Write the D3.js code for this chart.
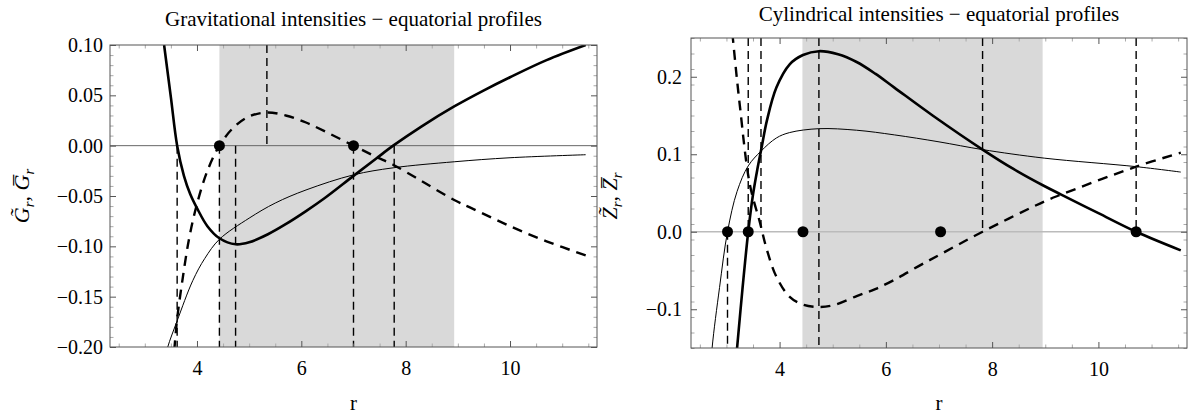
<!DOCTYPE html>
<html>
<head>
<meta charset="utf-8">
<script src="https://cdn.jsdelivr.net/npm/d3@7"></script>
<style>
  body { margin: 0; background: #fff; }
  svg { display: block; font-family: "Liberation Serif", "Times New Roman", serif; }
</style>
</head>
<body>
<svg id="chart"></svg>
<script>
const width = 1188;
const height = 414;

// ---- data (r, value) ----
// left panel: gravitational intensities
const gravR_thick = [3.37, 3.50, 3.62, 3.75, 3.87, 4.00, 4.20, 4.43, 4.74, 5.00, 5.36, 5.70, 6.09, 6.45, 7.00, 7.43, 7.76, 8.30, 8.93, 9.50, 10.00, 10.70, 11.45];
const gravV_thick = [0.100, 0.048, 0.000, -0.030, -0.048, -0.062, -0.080, -0.092, -0.098, -0.096, -0.088, -0.078, -0.065, -0.052, -0.030, -0.013, 0.000, 0.019, 0.039, 0.055, 0.068, 0.085, 0.100];
const gravR_dashed = [3.54, 3.57, 3.62, 3.72, 3.85, 4.00, 4.20, 4.43, 4.70, 5.00, 5.34, 5.70, 6.09, 6.50, 7.00, 7.43, 7.76, 8.30, 8.93, 9.30, 10.00, 10.70, 11.45];
const gravV_dashed = [-0.220, -0.200, -0.172, -0.134, -0.092, -0.058, -0.025, 0.000, 0.018, 0.029, 0.033, 0.030, 0.023, 0.013, 0.000, -0.011, -0.019, -0.035, -0.054, -0.063, -0.080, -0.095, -0.109];
const gravR_thin = [3.40, 3.44, 3.62, 3.92, 4.15, 4.43, 5.00, 5.50, 6.09, 7.00, 7.76, 8.93, 10.00, 11.45];
const gravV_thin = [-0.210, -0.200, -0.174, -0.134, -0.112, -0.093, -0.072, -0.057, -0.044, -0.029, -0.022, -0.016, -0.012, -0.009];
const gravBand = [4.43, 8.93];
const gravDots = [4.43, 7.00];
const gravMarkUp = [5.34];                       // from top down to 0
const gravMarkDown = [3.62, 4.43, 4.74, 7.00, 7.78]; // from 0 down to bottom
const gravMarkFull = [];

// right panel: cylindrical intensities
const cylR_thick = [3.13, 3.20, 3.30, 3.41, 3.50, 3.58, 3.66, 3.76, 3.94, 4.19, 4.44, 4.74, 5.10, 5.45, 5.80, 6.16, 6.88, 7.82, 8.40, 8.98, 9.30, 10.00, 10.71, 11.55];
const cylV_thick = [-0.200, -0.150, -0.075, 0.000, 0.048, 0.080, 0.108, 0.143, 0.186, 0.216, 0.228, 0.233, 0.229, 0.219, 0.204, 0.186, 0.150, 0.106, 0.081, 0.059, 0.048, 0.024, 0.000, -0.024];
const cylR_dashed = [3.05, 3.12, 3.25, 3.44, 3.63, 3.76, 3.94, 4.19, 4.44, 4.72, 5.00, 5.45, 5.80, 6.16, 6.60, 7.03, 7.82, 8.98, 9.30, 10.71, 11.55];
const cylV_dashed = [0.300, 0.250, 0.164, 0.061, 0.012, -0.023, -0.058, -0.084, -0.094, -0.097, -0.095, -0.083, -0.074, -0.062, -0.045, -0.029, 0.000, 0.039, 0.048, 0.084, 0.102];
const cylR_thin = [2.68, 2.73, 2.87, 3.02, 3.20, 3.41, 3.65, 3.94, 4.19, 4.74, 5.45, 6.16, 7.00, 7.82, 8.98, 10.71, 11.55];
const cylV_thin = [-0.200, -0.150, -0.072, 0.000, 0.052, 0.085, 0.104, 0.121, 0.128, 0.133, 0.131, 0.125, 0.116, 0.106, 0.095, 0.084, 0.077];
const cylBand = [4.43, 8.95];
const cylDots = [3.02, 3.41, 4.44, 7.03, 10.71];
const cylMarkUp = [3.41, 3.65, 7.82, 10.71];
const cylMarkDown = [3.02];
const cylMarkFull = [4.74];

// ticks
const xTicks = [4, 6, 8, 10];
const gravYTicks = [-0.20, -0.15, -0.10, -0.05, 0.00, 0.05, 0.10];
const cylYTicks = [-0.1, 0.0, 0.1, 0.2];

const svg = d3.select("#chart").attr("width", width).attr("height", height);

const zip = (rs, vs) => rs.map((r, i) => [r, vs[i]]);
const fmtMinus = f => v => f(v).replace("-", "\u2212");

function drawPanel(p) {
  const x = d3.scaleLinear().domain([2.333, 11.667]).range([p.left, p.right]);
  const y = d3.scaleLinear().domain(p.yDomain).range([p.bottom, p.top]);
  const g = svg.append("g");

  const clipId = "clip-" + p.id;
  svg.append("clipPath").attr("id", clipId)
    .append("rect")
    .attr("x", p.left).attr("y", p.top)
    .attr("width", p.right - p.left).attr("height", p.bottom - p.top);

  const plot = g.append("g").attr("clip-path", `url(#${clipId})`);

  // shaded band
  plot.append("rect")
    .attr("x", x(p.band[0])).attr("y", p.top)
    .attr("width", x(p.band[1]) - x(p.band[0]))
    .attr("height", p.bottom - p.top)
    .attr("fill", "#d9d9d9");

  // zero line
  plot.append("line")
    .attr("x1", p.left).attr("x2", p.right)
    .attr("y1", y(0)).attr("y2", y(0))
    .attr("stroke", p.zeroColor).attr("stroke-width", p.zeroWidth);

  const line = d3.line().x(d => x(d[0])).y(d => y(d[1])).curve(d3.curveCatmullRom.alpha(0.5));

  plot.append("path").datum(p.thin).attr("d", line)
    .attr("fill", "none").attr("stroke", "#000").attr("stroke-width", 1);
  plot.append("path").datum(p.thick).attr("d", line)
    .attr("fill", "none").attr("stroke", "#000").attr("stroke-width", 2.6);
  plot.append("path").datum(p.dashed).attr("d", line)
    .attr("fill", "none").attr("stroke", "#000").attr("stroke-width", 2.4)
    .attr("stroke-dasharray", "10,7");

  // vertical dashed markers
  const marks = [];
  p.markUp.forEach(r => marks.push([r, p.yDomain[1], 0]));
  p.markDown.forEach(r => marks.push([r, 0, p.yDomain[0]]));
  p.markFull.forEach(r => marks.push([r, p.yDomain[1], p.yDomain[0]]));
  plot.selectAll(".mark").data(marks).join("line")
    .attr("x1", d => x(d[0])).attr("x2", d => x(d[0]))
    .attr("y1", d => y(d[1])).attr("y2", d => y(d[2]))
    .attr("stroke", "#000").attr("stroke-width", 1.4)
    .attr("stroke-dasharray", "8,5");

  // dots on the zero line
  plot.selectAll(".dot").data(p.dots).join("circle")
    .attr("cx", d => x(d)).attr("cy", y(0)).attr("r", 5.5)
    .attr("fill", "#000");

  // minor ticks
  const minorX = d3.range(2.5, 11.6, 0.5).filter(v => Math.abs(v / 2 - Math.round(v / 2)) > 1e-6);
  const minorY = d3.range(p.yDomain[0], p.yDomain[1] + 1e-9, p.minorStep)
    .filter(v => !p.yTicks.some(t => Math.abs(t - v) < 1e-6));

  const axes = [
    [() => d3.axisBottom(x), `translate(0,${p.bottom})`, xTicks, minorX, true, true],
    [() => d3.axisTop(x), `translate(0,${p.top})`, xTicks, minorX, false, true],
    [() => d3.axisLeft(y), `translate(${p.left},0)`, p.yTicks, minorY, true, false],
    [() => d3.axisRight(y), `translate(${p.right},0)`, p.yTicks, minorY, false, false]
  ];
  axes.forEach(([mk, tr, major, minor, labelled, isX]) => {
    g.append("g").attr("transform", tr)
      .call(mk().tickValues(minor).tickSize(-3.5).tickSizeOuter(0).tickFormat(""))
      .call(s => s.select(".domain").remove())
      .call(s => s.selectAll("line").attr("stroke", "#aaa"));
    const fmt = labelled ? (isX ? d3.format("d") : fmtMinus(d3.format(p.yFmt))) : () => "";
    g.append("g").attr("transform", tr)
      .call(mk().tickValues(major).tickSize(-6).tickSizeOuter(0)
        .tickPadding(isX ? 14 : p.yPad).tickFormat(fmt))
      .call(s => s.select(".domain").remove())
      .call(s => s.selectAll("line").attr("stroke", "#555"))
      .call(s => s.selectAll("text").attr("font-size", 20)
        .attr("font-family", "Liberation Serif, serif").attr("fill", "#000"));
  });

  // frame
  g.append("rect")
    .attr("x", p.left).attr("y", p.top)
    .attr("width", p.right - p.left).attr("height", p.bottom - p.top)
    .attr("fill", "none").attr("stroke", "#555").attr("stroke-width", 1);

  // title
  svg.append("text")
    .attr("x", (p.left + p.right) / 2).attr("y", p.titleY)
    .attr("text-anchor", "middle").attr("font-size", 21)
    .text(p.title);

  // x label
  svg.append("text")
    .attr("x", (p.left + p.right) / 2).attr("y", 410)
    .attr("text-anchor", "middle").attr("font-size", 21)
    .text("r");

  // y label
  const yl = svg.append("text")
    .attr("transform", `translate(${p.ylabX},${p.ylabY}) rotate(-90)`)
    .attr("text-anchor", "middle").attr("font-size", 22)
    .attr("font-style", "italic");
  yl.append("tspan").text(p.sym + "\u0303");
  yl.append("tspan").attr("font-size", 15).attr("dy", 5).text("r");
  yl.append("tspan").attr("font-style", "normal").attr("dy", -5).text(", ");
  yl.append("tspan").text(p.sym + "\u0305");
  yl.append("tspan").attr("font-size", 15).attr("dy", 5).text("r");
}

drawPanel({
  id: "grav", left: 110, right: 597, top: 45, bottom: 347,
  yDomain: [-0.20, 0.10], yTicks: gravYTicks, yFmt: ".2f", minorStep: 0.01, yPad: 7,
  thick: zip(gravR_thick, gravV_thick), dashed: zip(gravR_dashed, gravV_dashed), thin: zip(gravR_thin, gravV_thin),
  band: gravBand, dots: gravDots, markUp: gravMarkUp, markDown: gravMarkDown, markFull: gravMarkFull,
  zeroColor: "#666", zeroWidth: 1,
  title: "Gravitational intensities \u2212 equatorial profiles", titleY: 26,
  sym: "G", ylabX: 29, ylabY: 196
});

drawPanel({
  id: "cyl", left: 691, right: 1187, top: 38, bottom: 348,
  yDomain: [-0.15, 0.25], yTicks: cylYTicks, yFmt: ".1f", minorStep: 0.02, yPad: 9,
  thick: zip(cylR_thick, cylV_thick), dashed: zip(cylR_dashed, cylV_dashed), thin: zip(cylR_thin, cylV_thin),
  band: cylBand, dots: cylDots, markUp: cylMarkUp, markDown: cylMarkDown, markFull: cylMarkFull,
  zeroColor: "#bbb", zeroWidth: 1.5,
  title: "Cylindrical intensities \u2212 equatorial profiles", titleY: 21,
  sym: "Z", ylabX: 617, ylabY: 196
});
</script>
</body>
</html>
